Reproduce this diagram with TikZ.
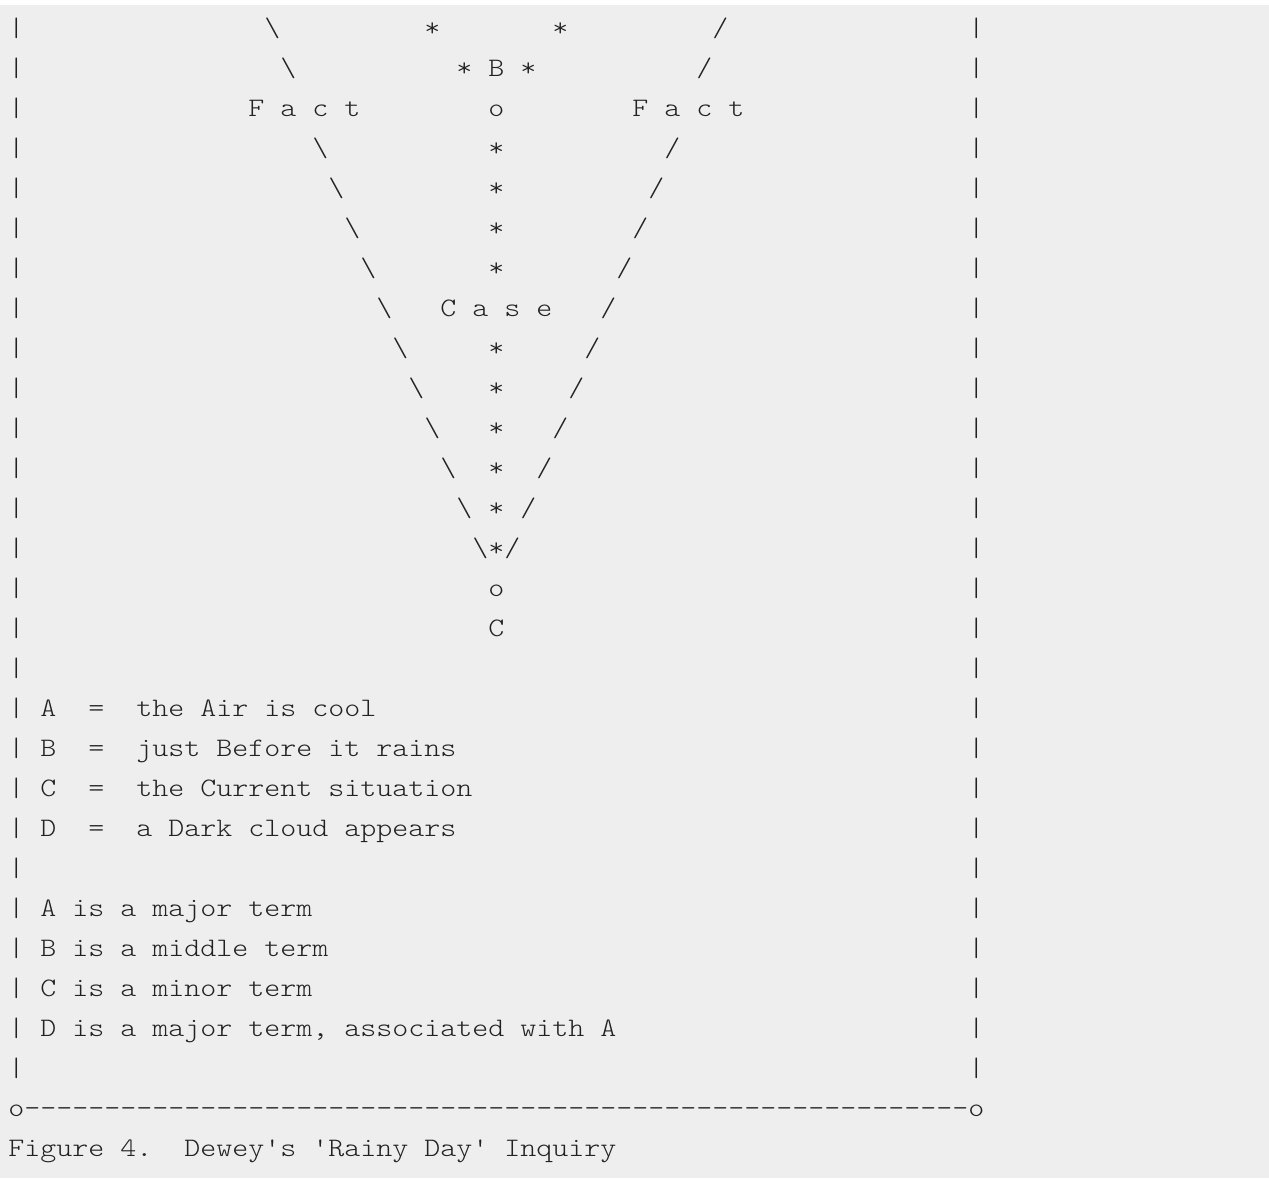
\documentclass[tikz,border=0pt]{standalone}
\usepackage{tikz}
\usepackage{xcolor}
\definecolor{pagebg}{HTML}{EEEEEE}
\definecolor{ink}{HTML}{222222}
\newlength\asciiw
\newcommand\asciifont{\fontsize{20pt}{30pt}\ttfamily\fontseries{l}\selectfont\frenchspacing}
\newcommand\gap[1]{\hspace*{#1\asciiw}}
\newcommand\bs{\textbackslash}
\newcommand\boxrow[1]{|\makebox[59\asciiw][l]{#1}|}
\newcommand\dashes{\makebox[59\asciiw]{\leaders\hbox{-}\hfill}}
\tikzset{
  asciirow/.style={font=\asciifont,text=ink,inner sep=0pt,anchor=base west,
                   xscale=\asciix,transform shape}
}

\begin{document}
\settowidth{\asciiw}{\asciifont M}%
\pgfmathsetmacro\asciix{12pt/\asciiw}%
\begin{tikzpicture}[x=0.75pt,y=0.75pt]
    \path[use as bounding box] (0,0) rectangle (1269,-1178);
    \fill[pagebg] (0,-5) rectangle (1269,-1178);

    \node[asciirow] (r00) at (8,-36)  {\boxrow{\gap{15}\bs\gap{9}*\gap{7}*\gap{9}/}};
    \node[asciirow] (r01) at (8,-76)  {\boxrow{\gap{16}\bs\gap{10}* B *\gap{10}/}};
    \node[asciirow] (r02) at (8,-116) {\boxrow{\gap{14}F a c t\gap{8}o\gap{8}F a c t}};
    \node[asciirow] (r03) at (8,-156) {\boxrow{\gap{18}\bs\gap{10}*\gap{10}/}};
    \node[asciirow] (r04) at (8,-196) {\boxrow{\gap{19}\bs\gap{9}*\gap{9}/}};
    \node[asciirow] (r05) at (8,-236) {\boxrow{\gap{20}\bs\gap{8}*\gap{8}/}};
    \node[asciirow] (r06) at (8,-276) {\boxrow{\gap{21}\bs\gap{7}*\gap{7}/}};
    \node[asciirow] (r07) at (8,-316) {\boxrow{\gap{22}\bs\gap{3}C a s e\gap{3}/}};
    \node[asciirow] (r08) at (8,-356) {\boxrow{\gap{23}\bs\gap{5}*\gap{5}/}};
    \node[asciirow] (r09) at (8,-396) {\boxrow{\gap{24}\bs\gap{4}*\gap{4}/}};
    \node[asciirow] (r10) at (8,-436) {\boxrow{\gap{25}\bs\gap{3}*\gap{3}/}};
    \node[asciirow] (r11) at (8,-476) {\boxrow{\gap{26}\bs\gap{2}*\gap{2}/}};
    \node[asciirow] (r12) at (8,-516) {\boxrow{\gap{27}\bs\gap{1}*\gap{1}/}};
    \node[asciirow] (r13) at (8,-556) {\boxrow{\gap{28}\bs*/}};
    \node[asciirow] (r14) at (8,-596) {\boxrow{\gap{29}o}};
    \node[asciirow] (r15) at (8,-636) {\boxrow{\gap{29}C}};
    \node[asciirow] (r16) at (8,-676) {\boxrow{}};
    \node[asciirow] (r17) at (8,-716) {\boxrow{\gap{1}A\gap{2}=\gap{2}the Air is cool}};
    \node[asciirow] (r18) at (8,-756) {\boxrow{\gap{1}B\gap{2}=\gap{2}just Before it rains}};
    \node[asciirow] (r19) at (8,-796) {\boxrow{\gap{1}C\gap{2}=\gap{2}the Current situation}};
    \node[asciirow] (r20) at (8,-836) {\boxrow{\gap{1}D\gap{2}=\gap{2}a Dark cloud appears}};
    \node[asciirow] (r21) at (8,-876) {\boxrow{}};
    \node[asciirow] (r22) at (8,-916) {\boxrow{\gap{1}A is a major term}};
    \node[asciirow] (r23) at (8,-956) {\boxrow{\gap{1}B is a middle term}};
    \node[asciirow] (r24) at (8,-996) {\boxrow{\gap{1}C is a minor term}};
    \node[asciirow] (r25) at (8,-1036) {\boxrow{\gap{1}D is a major term, associated with A}};
    \node[asciirow] (r26) at (8,-1076) {\boxrow{}};
    \node[asciirow] (r27) at (8,-1116) {o\dashes o};
    \node[asciirow] (r28) at (8,-1156)
      {Figure 4.\gap{2}Dewey\textquotesingle s \textquotesingle Rainy Day\textquotesingle{} Inquiry};
  \end{tikzpicture}
\end{document}
